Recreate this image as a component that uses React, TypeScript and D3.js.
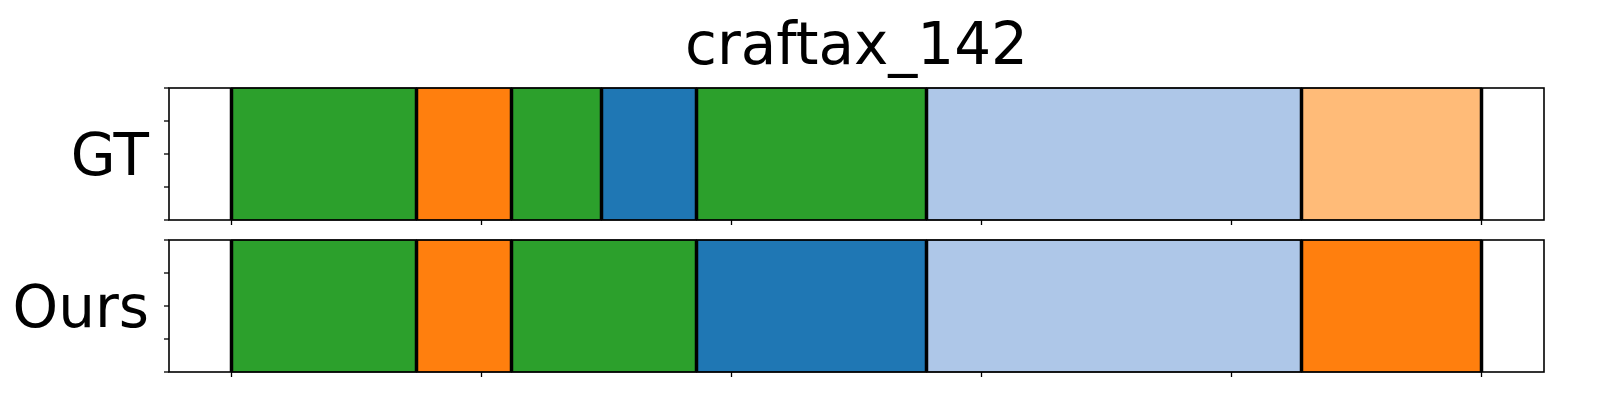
import React from "react";
import * as d3 from "d3";

const title = "craftax_142";
const rowNames = ["GT", "Ours"];
const gtBounds = [0, 37, 56, 74, 93, 139, 214, 250];
const gtColors = ["#2ca02c", "#ff7f0e", "#2ca02c", "#1f77b4", "#2ca02c", "#aec7e8", "#ffbb78"];
const oursBounds = [0, 37, 56, 93, 139, 214, 250];
const oursColors = ["#2ca02c", "#ff7f0e", "#2ca02c", "#1f77b4", "#aec7e8", "#ff7f0e"];
const xTicks = [0, 50, 100, 150, 200, 250];
const yTicks = [0, 0.25, 0.5, 0.75, 1];

const rows = [
  { name: rowNames[0], bounds: gtBounds, colors: gtColors },
  { name: rowNames[1], bounds: oursBounds, colors: oursColors },
];

export default function App() {
  const W = 1600, H = 400;
  const left = 177, right = 1552;
  const panelTops = [88, 240];
  const panelH = 132;
  const x = d3.scaleLinear().domain([-12.5, 262.5]).range([left - 8, right - 8]);
  const font = "DejaVu Sans, sans-serif";

  return (
    <svg width={W} height={H} style={{ position: "absolute", left: 0, top: 0 }}>
      <rect width={W} height={H} fill="#fff" />
      <text x={(left + right) / 2 - 8} y={64} textAnchor="middle" fontFamily={font} fontSize={58}>
        {title}
      </text>
      {rows.map((r, ri) => {
        const top = panelTops[ri];
        const y = d3.scaleLinear().domain([0, 1]).range([top + panelH, top]);
        const segs = d3.pairs(r.bounds);
        return (
          <g key={r.name}>
            {segs.map(([a, b], i) => (
              <rect key={i} x={x(a)} y={y(1)} width={x(b) - x(a)} height={y(0) - y(1)}
                fill={r.colors[i]} stroke="#000" strokeWidth={1} />
            ))}
            {r.bounds.map((v, i) => (
              <line key={"b" + i} x1={x(v)} x2={x(v)} y1={y(1)} y2={y(0)} stroke="#000" strokeWidth={3.5} />
            ))}
            <rect x={left - 8} y={top} width={right - left} height={panelH} fill="none" stroke="#000" strokeWidth={1.6} />
            {yTicks.map((t) => (
              <line key={"y" + t} x1={left - 8} x2={left - 13} y1={y(t)} y2={y(t)} stroke="#000" strokeWidth={1.3} />
            ))}
            {xTicks.map((t) => (
              <line key={"x" + t} x1={x(t)} x2={x(t)} y1={top + panelH} y2={top + panelH + 5} stroke="#000" strokeWidth={1.3} />
            ))}
            <text x={left - 28} y={top + panelH / 2} dy="0.36em" textAnchor="end" fontFamily={font} fontSize={58}>
              {r.name}
            </text>
          </g>
        );
      })}
    </svg>
  );
}
